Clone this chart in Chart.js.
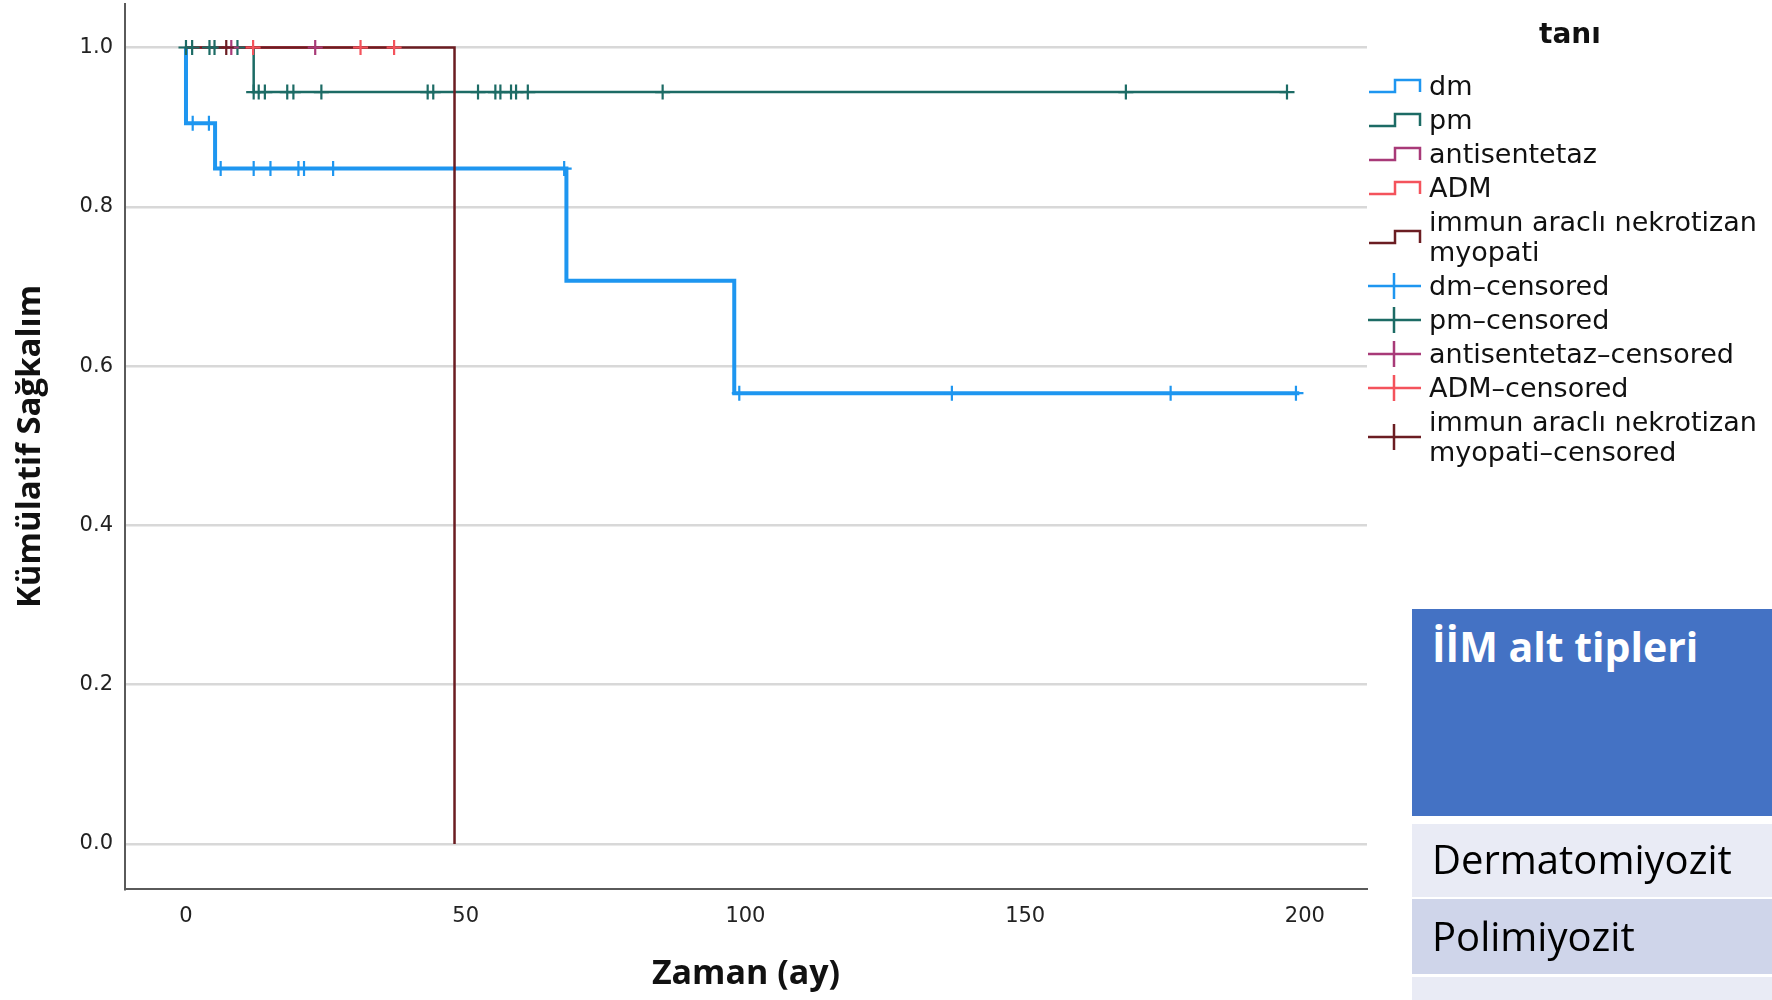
<!DOCTYPE html>
<html>
<head>
<meta charset="utf-8">
<script src="https://cdn.jsdelivr.net/npm/chart.js@4"></script>
<style>
  body { margin: 0; background: #fff; }
  #wrap { position: relative; width: 1772px; height: 1000px; overflow: hidden; }
  #km { position: absolute; left: 0; top: 0; }
  #legendTitle { position: absolute; left: 1470px; width: 200px; top: 17px; text-align: center;
    font: bold 28px 'DejaVu Sans', sans-serif; color: #111; }
  #legend { position: absolute; left: 1368px; top: 69px; font: 27px 'DejaVu Sans', sans-serif; color: #111; }
  .row { display: flex; align-items: center; height: 34px; }
  .row.two { height: 64px; }
  .row svg { flex: none; margin-right: 7px; }
  .row span { line-height: 30px; white-space: nowrap; }
  .box { position: absolute; left: 1412px; width: 360px; font-family: 'Open Sans', sans-serif; }
  .box div { position: absolute; left: 20px; white-space: nowrap; }
</style>
</head>
<body>
<div id="wrap">
  <canvas id="km" width="1772" height="1000"></canvas>
  <div id="legendTitle">tanı</div>
  <div id="legend"></div>
  <div class="box" style="top:609px;height:207px;background:#4472C4;">
    <div style="top:9px;color:#fff;font-weight:bold;font-size:41px;">İİM alt tipleri</div>
  </div>
  <div class="box" style="top:824px;height:73px;background:#E9EBF5;">
    <div style="top:7px;color:#000;font-size:40px;">Dermatomiyozit</div>
  </div>
  <div class="box" style="top:899px;height:75px;background:#CFD5EA;">
    <div style="top:9px;color:#000;font-size:40px;">Polimiyozit</div>
  </div>
  <div class="box" style="top:977px;height:23px;background:#E9EBF5;"></div>
</div>
<script>
// axis ticks
const xTicks = [0, 50, 100, 150, 200];
const yTicks = [0.0, 0.2, 0.4, 0.6, 0.8, 1.0];

// Kaplan-Meier steps: time (ay) and cumulative survival after that time
const dmTimes = [0, 0, 5.2, 68, 98, 199];
const dmSurv = [1, 0.905, 0.848, 0.707, 0.566, 0.566];
const pmTimes = [0, 12.1, 197];
const pmSurv = [1, 0.944, 0.944];
const antiTimes = [0, 23.1];
const antiSurv = [1, 1];
const admTimes = [0, 37.2];
const admSurv = [1, 1];
const immTimes = [0, 48];
const immSurv = [1, 0];

// censored times
const dmCens = [1.2, 4.1, 6.2, 12.1, 15.1, 20.1, 21.1, 26.3, 67.6, 98.9, 136.9, 176, 198.4];
const pmCens = [0, 1.1, 4.2, 5.1, 9.2, 12.1, 13.0, 14.1, 18.1, 19.2, 24.2, 43.2, 44.2, 52.2,
                55.3, 56.2, 58.1, 59.0, 61.1, 85.2, 168, 196.8];
const antiCens = [8.1, 23.1];
const admCens = [12.0, 31.2, 37.2];
const immCens = [7.2];

const groups = [
  { name: 'dm', color: '#1E96F0', width: 4, times: dmTimes, surv: dmSurv, cens: dmCens },
  { name: 'pm', color: '#1C6B65', width: 2.5, times: pmTimes, surv: pmSurv, cens: pmCens },
  { name: 'antisentetaz', color: '#A83A78', width: 2.5, times: antiTimes, surv: antiSurv, cens: antiCens },
  { name: 'ADM', color: '#F4535C', width: 2.5, times: admTimes, surv: admSurv, cens: admCens },
  { name: 'immun aracl\u0131 nekrotizan myopati', color: '#6B1D22', width: 2.5, times: immTimes, surv: immSurv, cens: immCens },
];

// survival level of a group at time t (used to place the censor marks on the curve)
function levelAt(g, t) {
  let s = g.surv[0];
  for (let i = 0; i < g.times.length; i++) {
    if (g.times[i] <= t) s = g.surv[i];
  }
  return s;
}

const datasets = [];
groups.forEach((g, i) => {
  datasets.push({
    label: g.name,
    data: g.times.map((t, k) => ({ x: t, y: g.surv[k] })),
    borderColor: g.color,
    borderWidth: g.width,
    stepped: 'before',
    pointRadius: 0,
    fill: false,
    order: 20 - i,
  });
  datasets.push({
    label: g.name + '-censored',
    data: g.cens.map(t => ({ x: t, y: levelAt(g, t) })),
    showLine: false,
    pointStyle: 'cross',
    pointRadius: 7.5,
    pointBorderWidth: 2.2,
    pointBorderColor: g.color,
    pointBackgroundColor: g.color,
    order: 10 - i,
  });
});

new Chart(document.getElementById('km').getContext('2d'), {
  type: 'line',
  data: { datasets },
  options: {
    responsive: false,
    animation: false,
    events: [],
    layout: { autoPadding: false, padding: { top: 4, right: 405, left: 0, bottom: 0 } },
    plugins: { legend: { display: false }, tooltip: { enabled: false } },
    scales: {
      x: {
        type: 'linear',
        min: -10.9,
        max: 211.1,
        afterBuildTicks: (scale) => { scale.ticks = xTicks.map(v => ({ value: v })); },
        afterFit: (scale) => { scale.height = 111; scale.paddingLeft = 0; scale.paddingRight = 0; },
        grid: { display: false, drawTicks: false },
        border: { display: true, color: '#5a5a5a', width: 2 },
        ticks: { padding: 15, color: '#222', font: { family: 'DejaVu Sans', size: 21 }, maxRotation: 0 },
        title: {
          display: true, text: 'Zaman (ay)', color: '#111',
          font: { family: 'Open Sans', size: 34, weight: 'bold' },
          padding: { top: 0, bottom: 5 },
        },
      },
      y: {
        type: 'linear',
        min: -0.0565,
        max: 1.0546,
        afterBuildTicks: (scale) => { scale.ticks = yTicks.map(v => ({ value: v })); },
        afterFit: (scale) => { scale.width = 125; scale.paddingTop = 0; scale.paddingBottom = 0; },
        grid: { color: '#d8d8d8', lineWidth: 2.5, drawTicks: false },
        border: { display: true, color: '#5a5a5a', width: 2 },
        ticks: {
          padding: 12, color: '#222', font: { family: 'DejaVu Sans', size: 21 },
          callback: (v) => Number(v).toFixed(1),
        },
        title: {
          display: true, text: 'Kümülatif Sağkalım', color: '#111',
          font: { family: 'Open Sans', size: 33, weight: 'bold' },
          padding: { top: 11, bottom: 0 },
        },
      },
    },
  },
});

// legend (step symbol for curves, cross for censored marks)
function stepSvg(color) {
  return `<svg width="54" height="30"><path d="M1 21 H27 V9 H52 V21" fill="none" stroke="${color}" stroke-width="2.5"/></svg>`;
}
function crossSvg(color) {
  return `<svg width="54" height="30"><path d="M0 15 H53 M26 2 V28" fill="none" stroke="${color}" stroke-width="2.5"/></svg>`;
}
const legend = document.getElementById('legend');
const rows = [];
groups.forEach(g => rows.push({ svg: stepSvg(g.color), text: g.name }));
groups.forEach(g => rows.push({ svg: crossSvg(g.color), text: g.name + '-censored' }));
rows.forEach(r => {
  const div = document.createElement('div');
  const two = r.text.startsWith('immun');
  div.className = 'row' + (two ? ' two' : '');
  const label = two ? r.text.replace('nekrotizan ', 'nekrotizan<br>').replace(/-/g, '\u2013') : r.text.replace(/-/g, '\u2013');
  div.innerHTML = r.svg + '<span>' + label + '</span>';
  legend.appendChild(div);
});
</script>
</body>
</html>
